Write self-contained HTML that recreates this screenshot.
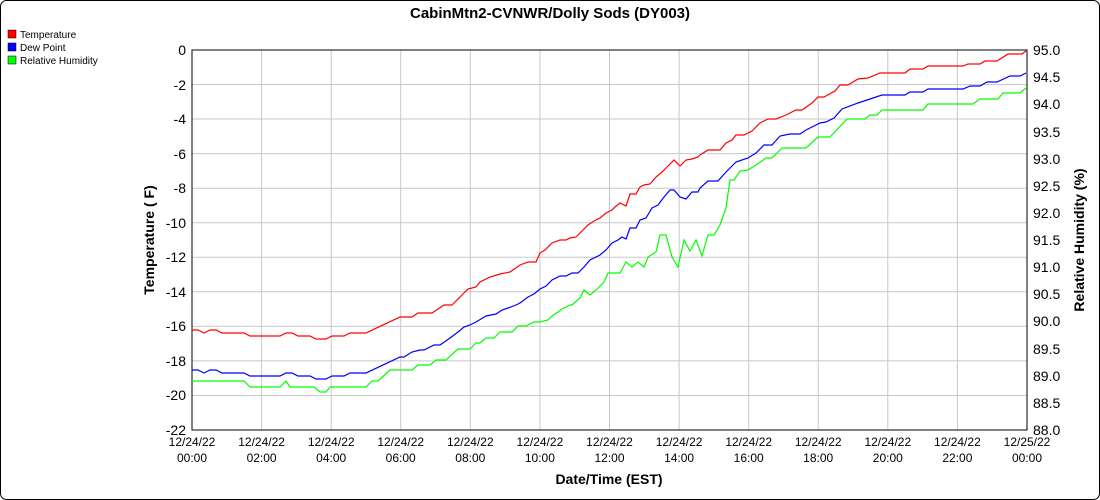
<!DOCTYPE html>
<html><head><meta charset="utf-8"><style>
html,body{margin:0;padding:0;background:#fff;}
svg{display:block;font-family:"Liberation Sans",sans-serif;}
</style></head><body>
<svg width="1100" height="500" xmlns="http://www.w3.org/2000/svg">
<rect x="0.5" y="0.5" width="1099" height="499" rx="6" fill="#fff" stroke="#000"/>
<text x="550" y="18" text-anchor="middle" font-size="15" font-weight="bold">CabinMtn2-CVNWR/Dolly Sods (DY003)</text>
<g font-size="10">
<rect x="8" y="30" width="8" height="8" fill="#f00" stroke="#000" stroke-width="0.5"/><text x="20" y="38">Temperature</text>
<rect x="8" y="43" width="8" height="8" fill="#00f" stroke="#000" stroke-width="0.5"/><text x="20" y="51">Dew Point</text>
<rect x="8" y="56" width="8" height="8" fill="#0f0" stroke="#000" stroke-width="0.5"/><text x="20" y="64">Relative Humidity</text>
</g>
<g stroke="#c8c8c8" stroke-width="1">
<line x1="192" y1="84.5" x2="1027" y2="84.5"/><line x1="192" y1="119" x2="1027" y2="119"/><line x1="192" y1="153.6" x2="1027" y2="153.6"/><line x1="192" y1="188.2" x2="1027" y2="188.2"/><line x1="192" y1="222.7" x2="1027" y2="222.7"/><line x1="192" y1="257.3" x2="1027" y2="257.3"/><line x1="192" y1="291.8" x2="1027" y2="291.8"/><line x1="192" y1="326.4" x2="1027" y2="326.4"/><line x1="192" y1="360.9" x2="1027" y2="360.9"/><line x1="192" y1="395.5" x2="1027" y2="395.5"/>
<line x1="261.6" y1="50" x2="261.6" y2="430"/><line x1="331.2" y1="50" x2="331.2" y2="430"/><line x1="400.7" y1="50" x2="400.7" y2="430"/><line x1="470.3" y1="50" x2="470.3" y2="430"/><line x1="539.9" y1="50" x2="539.9" y2="430"/><line x1="609.5" y1="50" x2="609.5" y2="430"/><line x1="679.1" y1="50" x2="679.1" y2="430"/><line x1="748.7" y1="50" x2="748.7" y2="430"/><line x1="818.2" y1="50" x2="818.2" y2="430"/><line x1="887.8" y1="50" x2="887.8" y2="430"/><line x1="957.4" y1="50" x2="957.4" y2="430"/>
</g>
<rect x="192" y="50" width="835" height="380" fill="none" stroke="#000"/>
<g font-size="14" text-anchor="end">
<text x="186" y="55">0</text><text x="186" y="90">-2</text><text x="186" y="124">-4</text><text x="186" y="159">-6</text><text x="186" y="193">-8</text><text x="186" y="228">-10</text><text x="186" y="262">-12</text><text x="186" y="297">-14</text><text x="186" y="331">-16</text><text x="186" y="366">-18</text><text x="186" y="400">-20</text><text x="186" y="435">-22</text>
</g>
<g font-size="14">
<text x="1033" y="55">95.0</text><text x="1033" y="82">94.5</text><text x="1033" y="109">94.0</text><text x="1033" y="137">93.5</text><text x="1033" y="164">93.0</text><text x="1033" y="191">92.5</text><text x="1033" y="218">92.0</text><text x="1033" y="245">91.5</text><text x="1033" y="272">91.0</text><text x="1033" y="299">90.5</text><text x="1033" y="326">90.0</text><text x="1033" y="354">89.5</text><text x="1033" y="381">89.0</text><text x="1033" y="408">88.5</text><text x="1033" y="435">88.0</text>
</g>
<g font-size="12" text-anchor="middle">
<text x="192" y="446">12/24/22</text><text x="192" y="462">00:00</text>
<text x="261.6" y="446">12/24/22</text><text x="261.6" y="462">02:00</text>
<text x="331.2" y="446">12/24/22</text><text x="331.2" y="462">04:00</text>
<text x="400.7" y="446">12/24/22</text><text x="400.7" y="462">06:00</text>
<text x="470.3" y="446">12/24/22</text><text x="470.3" y="462">08:00</text>
<text x="539.9" y="446">12/24/22</text><text x="539.9" y="462">10:00</text>
<text x="609.5" y="446">12/24/22</text><text x="609.5" y="462">12:00</text>
<text x="679.1" y="446">12/24/22</text><text x="679.1" y="462">14:00</text>
<text x="748.7" y="446">12/24/22</text><text x="748.7" y="462">16:00</text>
<text x="818.2" y="446">12/24/22</text><text x="818.2" y="462">18:00</text>
<text x="887.8" y="446">12/24/22</text><text x="887.8" y="462">20:00</text>
<text x="957.4" y="446">12/24/22</text><text x="957.4" y="462">22:00</text>
<text x="1027" y="446">12/25/22</text><text x="1027" y="462">00:00</text>
</g>
<text x="609" y="484" text-anchor="middle" font-size="14" font-weight="bold">Date/Time (EST)</text>
<text transform="translate(154,240) rotate(-90)" text-anchor="middle" font-size="14" font-weight="bold">Temperature ( F)</text>
<text transform="translate(1084,240) rotate(-90)" text-anchor="middle" font-size="14" font-weight="bold">Relative Humidity (%)</text>
<g fill="none" stroke-width="1.2">
<polyline stroke="#0f0" points="192,381 244,381 250,387 280,387 286,381 290,387 314,387 320,392 326,392 330,387 366,387 372,381 378,381 390,370 412,370 418,365 430,365 436,360 446,360 458,349 470,349 476,343 480,343 486,338 494,338 500,332 512,332 518,326 526,326 534,322 540,322 548,320 552,316 558,312 562,309 570,305 572,305 580,298 584,290 590,295 596,290 604,282 608,273 620,273 626,262 632,267 638,262 644,267 648,257 656,252 660,235 666,235 672,257 678,267 684,240 690,251 696,240 702,256 708,235 714,235 720,225 726,208 730,180 734,180 740,171 748,170 756,165 766,158 772,158 782,148 806,148 818,137 830,137 847,119 865,119 870,115 877,115 882,110 923,110 928,104 973,104 980,99 998,99 1003,93 1020,93 1026,88"/>
<polyline stroke="#00f" points="192,370 198,370 204,373 210,370 216,370 222,373 244,373 250,376 280,376 286,373 292,373 298,376 310,376 316,379 326,379 332,376 344,376 350,373 366,373 400,357 404,357 412,352 420,350 424,350 434,345 440,345 450,338 458,332 464,327 470,325 476,322 486,316 496,314 502,310 508,308 516,305 520,303 528,297 534,294 540,289 546,286 552,280 560,276 566,276 572,273 578,273 584,267 590,260 600,255 606,250 612,243 618,240 622,237 626,239 630,228 636,228 640,220 646,218 652,208 658,205 664,197 670,190 674,190 680,197 686,199 692,192 698,192 700,188 708,181 718,181 726,172 736,162 748,158 756,153 764,145 772,145 780,136 790,134 800,134 806,130 812,127 820,123 826,122 834,118 842,109 858,103 870,99 882,95 905,95 910,92 923,92 928,89 963,89 970,86 980,86 987,82 997,82 1010,76 1020,76 1026,73"/>
<polyline stroke="#f00" points="192,330 198,330 204,333 210,330 216,330 222,333 244,333 250,336 280,336 286,333 292,333 298,336 310,336 316,339 326,339 332,336 344,336 350,333 366,333 400,317 412,317 418,313 432,313 444,305 452,305 460,297 468,289 476,287 480,282 490,277 500,274 510,272 520,265 528,262 536,262 540,253 545,250 552,243 560,240 566,240 570,238 576,237 582,231 588,225 594,221 600,218 606,213 612,210 615,207 620,203 626,206 630,194 636,194 640,187 644,185 650,184 656,177 662,172 667,167 674,160 680,166 686,160 692,159 698,157 700,155 708,150 720,150 726,143 732,140 736,135 744,135 752,131 760,123 768,119 776,119 786,115 796,110 802,110 812,103 818,97 824,97 835,91 840,85 848,85 858,79 868,78 880,73 905,73 910,69 923,69 928,66 963,66 968,64 980,64 985,61 997,61 1008,54 1022,54 1026,51"/>
</g>
</svg>
</body></html>
